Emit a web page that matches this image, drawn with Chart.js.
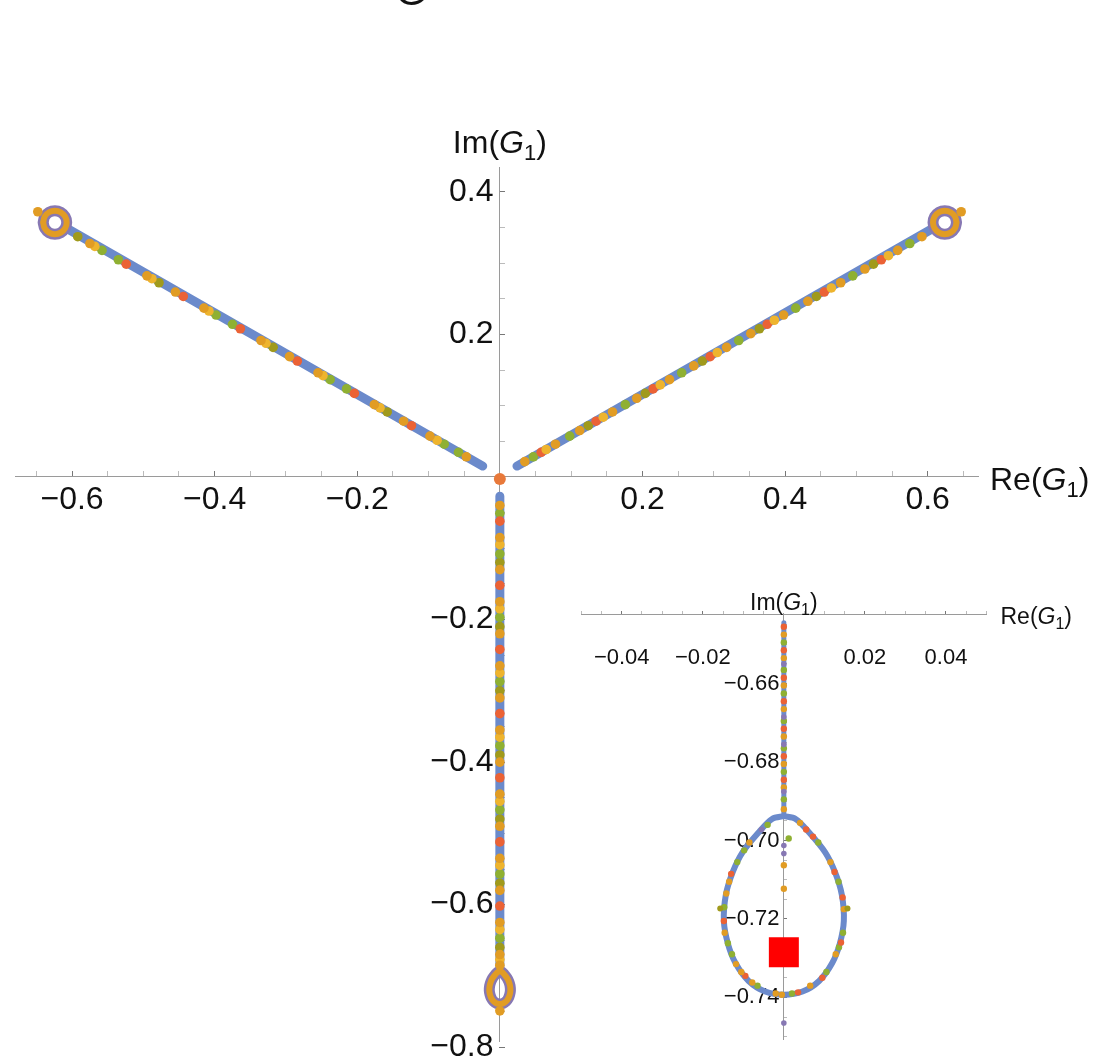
<!DOCTYPE html>
<html>
<head>
<meta charset="utf-8">
<script src="https://cdn.jsdelivr.net/npm/chart.js@4.4.1/dist/chart.umd.min.js"></script>
<style>
  html, body { margin: 0; padding: 0; background: #fff; }
  #wrap { position: relative; width: 1096px; height: 1061px; overflow: hidden; }
  #mainBox { position: absolute; left: 0; top: 0; width: 1096px; height: 1061px; }
  #insetBox { position: absolute; left: 560px; top: 580px; width: 536px; height: 481px; }
</style>
</head>
<body>
<div id="wrap">
  <div id="mainBox"><canvas id="main"></canvas></div>
  <div id="insetBox"><canvas id="inset"></canvas></div>
</div>
<script>
// Plano complexo de G1: tres ramos com lacos nas pontas + ampliacao do laco inferior.

// ---------------------------------------------------------------- ticks
const mainXTicks = [-0.65, -0.6, -0.55, -0.5, -0.45, -0.4, -0.35, -0.3, -0.25, -0.2, -0.15, -0.1, -0.05,
                    0.05, 0.1, 0.15, 0.2, 0.25, 0.3, 0.35, 0.4, 0.45, 0.5, 0.55, 0.6, 0.65];
const mainXLabels = [-0.6, -0.4, -0.2, 0.2, 0.4, 0.6];
const mainYTicks = [-0.8, -0.75, -0.7, -0.65, -0.6, -0.55, -0.5, -0.45, -0.4, -0.35, -0.3, -0.25, -0.2,
                    -0.15, -0.1, -0.05, 0.05, 0.1, 0.15, 0.2, 0.25, 0.3, 0.35, 0.4];
const mainYLabels = [-0.8, -0.6, -0.4, -0.2, 0.2, 0.4];

const insetXTicks = [-0.05, -0.045, -0.04, -0.035, -0.03, -0.025, -0.02, -0.015, -0.01, -0.005,
                     0.005, 0.01, 0.015, 0.02, 0.025, 0.03, 0.035, 0.04, 0.045, 0.05];
const insetXLabels = [-0.04, -0.02, 0.02, 0.04];
const insetYTicks = [-0.75, -0.745, -0.74, -0.735, -0.73, -0.725, -0.72, -0.715, -0.71, -0.705, -0.7,
                     -0.695, -0.69, -0.685, -0.68, -0.675, -0.67, -0.665, -0.66, -0.655, -0.65, -0.645];
const insetYLabels = [-0.74, -0.72, -0.70, -0.68, -0.66];

// ---------------------------------------------------------------- ramos (grafico principal)
const rightBranch = [[0.024, 0.0153], [0.607, 0.3485]];
const leftBranch = [[-0.024, 0.0153], [-0.607, 0.3485]];
const bottomBranch = [[0, -0.027], [0, -0.694]];

const rightLoop = [[0.6405, 0.357], [0.6383, 0.3653], [0.6323, 0.3713], [0.624, 0.3735], [0.6158, 0.3713],
                   [0.6097, 0.3653], [0.6075, 0.357], [0.6097, 0.3488], [0.6158, 0.3427], [0.624, 0.3405],
                   [0.6323, 0.3427], [0.6383, 0.3488], [0.6405, 0.357]];
const leftLoop = [[-0.6405, 0.357], [-0.6383, 0.3653], [-0.6323, 0.3713], [-0.624, 0.3735], [-0.6158, 0.3713],
                  [-0.6097, 0.3653], [-0.6075, 0.357], [-0.6097, 0.3488], [-0.6158, 0.3427], [-0.624, 0.3405],
                  [-0.6323, 0.3427], [-0.6383, 0.3488], [-0.6405, 0.357]];
const teardrop = [[0, -0.6938], [0.0029, -0.6945], [0.0063, -0.698], [0.0102, -0.703], [0.0126, -0.708],
                  [0.0143, -0.7138], [0.0148, -0.7205], [0.0138, -0.7263], [0.0119, -0.7313], [0.0087, -0.7358],
                  [0.0046, -0.7385], [0, -0.7393], [-0.0046, -0.7385], [-0.0087, -0.7358], [-0.0119, -0.7313],
                  [-0.0138, -0.7263], [-0.0148, -0.7205], [-0.0143, -0.7138], [-0.0126, -0.708], [-0.0102, -0.703],
                  [-0.0063, -0.698], [-0.0029, -0.6945], [0, -0.6938]];

const mainOrange = [
  [0.035, 0.0215], [0.078, 0.0459], [0.112, 0.0651], [0.158, 0.0912], [0.192, 0.1104], [0.238, 0.1365],
  [0.272, 0.1558], [0.318, 0.1818], [0.352, 0.2011], [0.398, 0.2271], [0.432, 0.2464], [0.478, 0.2724],
  [0.512, 0.2917], [0.558, 0.3178], [0.592, 0.337],
  [-0.047, 0.0283], [-0.098, 0.0572], [-0.135, 0.0782], [-0.176, 0.1014], [-0.255, 0.1461], [-0.295, 0.1688],
  [-0.335, 0.1914], [-0.415, 0.2368], [-0.455, 0.2594], [-0.495, 0.2821], [-0.575, 0.3274],
  [0, -0.04], [0, -0.085], [0, -0.13], [0, -0.175], [0, -0.22], [0, -0.265], [0, -0.31], [0, -0.355],
  [0, -0.4], [0, -0.445], [0, -0.49], [0, -0.535], [0, -0.58], [0, -0.625], [0, -0.67], [0, -0.685],
  [0.647, 0.372], [-0.648, 0.372], [0, -0.749]
];
const mainGold = [
  [0.065, 0.0385], [0.145, 0.0838], [0.225, 0.1291], [0.305, 0.1745], [0.385, 0.2198], [0.465, 0.2651], [0.545, 0.3104],
  [-0.088, 0.0515], [-0.168, 0.0969], [-0.248, 0.1422], [-0.328, 0.1875], [-0.408, 0.2328], [-0.488, 0.2781], [-0.568, 0.3234],
  [0, -0.095], [0, -0.185], [0, -0.275], [0, -0.365], [0, -0.455], [0, -0.545], [0, -0.635], [0, -0.677]
];
const mainRed = [
  [0.058, 0.0346], [0.135, 0.0782], [0.215, 0.1235], [0.295, 0.1688], [0.375, 0.2141], [0.455, 0.2594], [0.535, 0.3047],
  [-0.124, 0.0719], [-0.204, 0.1172], [-0.284, 0.1626], [-0.364, 0.2079], [-0.444, 0.2532], [-0.524, 0.2985],
  [0, -0.062], [0, -0.152], [0, -0.242], [0, -0.332], [0, -0.422], [0, -0.512], [0, -0.602]
];
const mainGreen = [
  [0.047, 0.0283], [0.098, 0.0572], [0.176, 0.1014], [0.255, 0.1461], [0.335, 0.1914], [0.415, 0.2368],
  [0.495, 0.2821], [0.575, 0.3274],
  [-0.058, 0.0346], [-0.078, 0.0459], [-0.215, 0.1235], [-0.238, 0.1365], [-0.375, 0.2141], [-0.398, 0.2271],
  [-0.535, 0.3047], [-0.558, 0.3178],
  [0, -0.051], [0, -0.108], [0, -0.197], [0, -0.287], [0, -0.377], [0, -0.467], [0, -0.557], [0, -0.647]
];
const mainOlive = [
  [0.124, 0.0719], [0.204, 0.1172], [0.284, 0.1626], [0.364, 0.2079], [0.444, 0.2532], [0.524, 0.2985],
  [-0.158, 0.0912], [-0.318, 0.1818], [-0.478, 0.2724], [-0.592, 0.337],
  [0, -0.12], [0, -0.21], [0, -0.3], [0, -0.39], [0, -0.48], [0, -0.57], [0, -0.66]
];
const originDot = [[0, -0.003]];

// ---------------------------------------------------------------- ampliacao
const insetStem = [[0, -0.6445], [0, -0.6938]];
const insetOrange = [
  [0, -0.6475], [0, -0.6535], [0, -0.6605], [0, -0.6665], [0, -0.6735], [0, -0.6805], [0, -0.6865], [0, -0.692],
  [0.004, -0.6955], [0.0115, -0.7055], [0.0148, -0.7175], [0.0128, -0.729], [0.0065, -0.737], [-0.002, -0.739],
  [-0.0105, -0.7335], [-0.0146, -0.7235], [-0.0135, -0.7105], [-0.0085, -0.7005],
  [-0.0005, -0.7393], [-0.0078, -0.7362], [-0.0118, -0.7315], [-0.0142, -0.7135],
  [0, -0.7063], [0, -0.7123]
];
const insetRed = [
  [0, -0.6455], [0, -0.6515], [0, -0.6585], [0, -0.6645], [0, -0.6715], [0, -0.6785], [0, -0.6845],
  [0.0072, -0.699], [0.0141, -0.726], [0.0035, -0.7387], [-0.0095, -0.7345], [-0.0148, -0.7205], [-0.013, -0.7085],
  [0.0055, -0.6972], [0.0125, -0.708], [0.0145, -0.7145], [0.0095, -0.735]
];
const insetGreen = [
  [0, -0.6495], [0, -0.6565], [0, -0.6625], [0, -0.6695], [0, -0.6765], [0, -0.6825], [0, -0.6895],
  [0.0085, -0.7005], [0.0135, -0.7105], [0.0146, -0.7235], [0.0105, -0.7335], [0.002, -0.739],
  [-0.0065, -0.737], [-0.0128, -0.729], [-0.0147, -0.717], [-0.0115, -0.7055], [-0.004, -0.696],
  [-0.0138, -0.7262], [-0.0098, -0.7025], [0.0136, -0.7272],
  [0.0012, -0.6995]
];
const insetPurple = [[0, -0.655], [0, -0.6685], [0, -0.6755], [0, -0.6875], [0, -0.7013], [0, -0.7033], [0, -0.7465],
                     [-0.0055, -0.6972]];
const insetOlive = [[-0.0157, -0.7173], [0.0157, -0.7173]];
const redSquare = [[0, -0.7285]];

// ---------------------------------------------------------------- estilo
const FONT = '"Liberation Sans", Arial, sans-serif';
const AXIS = '#9a9a9a';
const C = {
  blue: '#6b8acb', orange: '#e19c24', gold: '#eeb42e', red: '#eb6235', green: '#8fb032',
  purple: '#8778b3', olive: '#a09a1c', origin: '#e8793a'
};

function pts(a) { return a.map(p => ({ x: p[0], y: p[1] })); }
function fmt(v, d) { return (v < 0 ? '\u2212' : '') + Math.abs(v).toFixed(d); }
function isMajor(v, labels) { return labels.some(l => Math.abs(l - v) < 1e-9); }

function dots(data, color, r) {
  return { data: pts(data), showLine: false, pointRadius: r, pointHoverRadius: r,
           pointBackgroundColor: color, pointBorderWidth: 0 };
}
function line(data, color, w, tension) {
  return { data: pts(data), showLine: true, pointRadius: 0, borderColor: color, borderWidth: w,
           borderCapStyle: 'round', borderJoinStyle: 'round', tension: tension || 0, fill: false };
}

// lh: altura de linha do rotulo; no eixo x empurra o rotulo para baixo sem mexer na area do grafico
function axis(min, max, pos, ticks, labels, digits, size, pad, tl, suffix, lh) {
  return {
    type: 'linear', min: min, max: max, position: pos,
    afterBuildTicks: s => { s.ticks = ticks.map(v => ({ value: v })); },
    ticks: {
      autoSkip: false, maxRotation: 0, padding: pad, color: '#111',
      font: { family: FONT, size: size, lineHeight: lh || 1.2 },
      callback: v => isMajor(v, labels) ? fmt(v, digits) + (suffix || '') : ''
    },
    grid: {
      drawOnChartArea: false, drawTicks: true, tickLength: tl, tickWidth: 1,
      tickColor: c => (c.tick && isMajor(c.tick.value, labels)) ? '#777' : '#bbb'
    },
    border: { display: true, color: AXIS, width: 1 }
  };
}

// desenha "Re(G1)" / "Im(G1)" com G italico e 1 subscrito
function drawG(ctx, prefix, x, y, size, align) {
  const parts = [
    [prefix + '(', size + 'px ' + FONT, 0],
    ['G', 'italic ' + size + 'px ' + FONT, 0],
    ['1', Math.round(size * 0.68) + 'px ' + FONT, size * 0.22],
    [')', size + 'px ' + FONT, 0]
  ];
  let w = 0;
  parts.forEach(p => { ctx.font = p[1]; p.push(ctx.measureText(p[0]).width); w += p[3]; });
  let cx = align === 'center' ? x - w / 2 : x;
  ctx.save();
  ctx.fillStyle = '#111';
  ctx.textBaseline = 'alphabetic';
  ctx.textAlign = 'left';
  parts.forEach(p => { ctx.font = p[1]; ctx.fillText(p[0], cx, y + p[2]); cx += p[3]; });
  ctx.restore();
}

const axisTitles = {
  id: 'axisTitles',
  afterDraw(chart, args, o) {
    const ctx = chart.ctx, xs = chart.scales.x, ys = chart.scales.y;
    drawG(ctx, 'Im', xs.getPixelForValue(0), chart.chartArea.top - o.imGap, o.size, 'center');
    drawG(ctx, 'Re', xs.right + o.reGap, ys.getPixelForValue(o.xAxisAt) + o.reDrop, o.size, 'left');
    if (o.title) {
      ctx.save();
      ctx.font = o.title.size + 'px ' + FONT;
      ctx.fillStyle = '#111';
      ctx.textAlign = 'center';
      ctx.fillText(o.title.text, o.title.x, o.title.y);
      ctx.restore();
    }
  }
};

const common = {
  responsive: true, maintainAspectRatio: false, animation: false, devicePixelRatio: 1,
  events: [],
  plugins: { legend: { display: false }, tooltip: { enabled: false } }
};

new Chart(document.getElementById('main'), {
  type: 'scatter',
  data: {
    datasets: [
      dots(originDot, C.origin, 6),
      dots(mainOrange, C.orange, 4.8),
      dots(mainGold, C.gold, 4.8),
      dots(mainRed, C.red, 4.8),
      dots(mainGreen, C.green, 4.8),
      dots(mainOlive, C.olive, 4.8),
      line(rightLoop, C.orange, 6, 0.4),
      line(leftLoop, C.orange, 6, 0.4),
      line(teardrop, C.orange, 6, 0.3),
      line(rightLoop, C.purple, 11, 0.4),
      line(leftLoop, C.purple, 11, 0.4),
      line(teardrop, C.purple, 11, 0.3),
      line(rightBranch, C.blue, 9),
      line(leftBranch, C.blue, 9),
      line(bottomBranch, C.blue, 9)
    ]
  },
  options: Object.assign({}, common, {
    layout: { padding: { left: 15, right: 118, top: 167, bottom: 19 } },
    scales: {
      x: axis(-0.68, 0.6706, { y: 0 }, mainXTicks, mainXLabels, 1, 32, 10, -6),
      y: axis(-0.7924, 0.4348, { x: 0 }, mainYTicks, mainYLabels, 1, 32, 0, -6, '\u2009')
    },
    plugins: Object.assign({}, common.plugins, {
      axisTitles: { size: 32, imGap: 14, reGap: 12, reDrop: 13, xAxisAt: 0,
                    title: { text: 'G', size: 40, x: 411, y: 5 } }
    })
  }),
  plugins: [axisTitles]
});

new Chart(document.getElementById('inset'), {
  type: 'scatter',
  data: {
    datasets: [
      { data: pts(redSquare), showLine: false, pointStyle: 'rect', pointRadius: 21.2,
        pointBackgroundColor: '#ff0000', pointBorderWidth: 0 },
      dots(insetOlive, C.olive, 3),
      dots(insetPurple, C.purple, 2.8),
      dots(insetOrange, C.orange, 3.2),
      dots(insetRed, C.red, 3.2),
      dots(insetGreen, C.green, 3.2),
      line(teardrop, C.blue, 6, 0.3),
      line(insetStem, C.blue, 5)
    ]
  },
  options: Object.assign({}, common, {
    layout: { padding: { left: 19.5, right: 109.5, top: 33, bottom: 13 } },
    scales: {
      x: axis(-0.05, 0.05, { y: -0.6425 }, insetXTicks, insetXLabels, 2, 22, 18, -4, '', 2.6),
      y: axis(-0.7508, -0.642, { x: 0 }, insetYTicks, insetYLabels, 2, 22, 0, -4, '\u2009')
    },
    plugins: Object.assign({}, common.plugins, {
      axisTitles: { size: 23, imGap: 3, reGap: 14, reDrop: 9, xAxisAt: -0.6425 }
    })
  }),
  plugins: [axisTitles]
});
</script>
</body>
</html>
